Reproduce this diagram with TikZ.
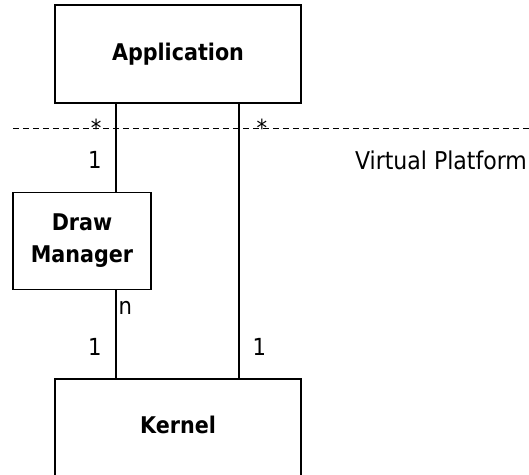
\documentclass[tikz,border=0pt]{standalone}
\usepackage{fontspec}
\setmainfont{DejaVu Sans Condensed}
\usetikzlibrary{positioning}
\begin{document}
\begin{tikzpicture}[x=1pt,y=-1pt,
        box/.style={draw,line width=1.5pt,font=\bfseries\fontsize{23}{32}\selectfont,align=center,inner sep=0pt},
        mult/.style={font=\fontsize{23.5}{26}\selectfont,inner sep=0pt},
        link/.style={line width=1.1pt}]
            \useasboundingbox (0,0) rectangle (529,474);
            \clip (0,0) rectangle (529,474);
            \node[box,minimum width=246pt,minimum height=98pt] (app) at (178,54) {Application};
            \node[box,minimum width=138pt,minimum height=97pt] (dm) at (82,241) {Draw\\Manager};
            \node[box,minimum width=246pt,minimum height=98pt,text depth=6pt] (kernel) at (178,428) {Kernel};
            \coordinate (l) at (116,0);
            \coordinate (r) at (239,0);
            \coordinate (vpl) at (13,128);
            \coordinate (vpr) at (529,128);

            \draw[dash pattern=on 6pt off 4pt,line width=1pt] (vpl) -- (vpr);
            \node[mult,font=\fontsize{24.5}{26}\selectfont] (vp) at (441,160) {Virtual Platform};

            \draw[link] (app.south -| l) -- (dm.north -| l)
                node[mult,pos=0.37,anchor=base east,xshift=-14pt] (m1) {*}
                node[mult,pos=0.74,anchor=base east,xshift=-14pt] (m2) {1};
            \draw[link] (dm.south -| l) -- (kernel.north -| l)
                node[mult,pos=0.27,anchor=base west,xshift=2pt] (m3) {n}
                node[mult,pos=0.74,anchor=base east,xshift=-14pt] (m4) {1};
            \draw[link] (app.south -| r) -- (kernel.north -| r)
                node[mult,pos=0.12,anchor=base west,xshift=17pt] (m5) {*}
                node[mult,pos=0.917,anchor=base west,xshift=13pt] (m6) {1};
        \end{tikzpicture}
\end{document}
